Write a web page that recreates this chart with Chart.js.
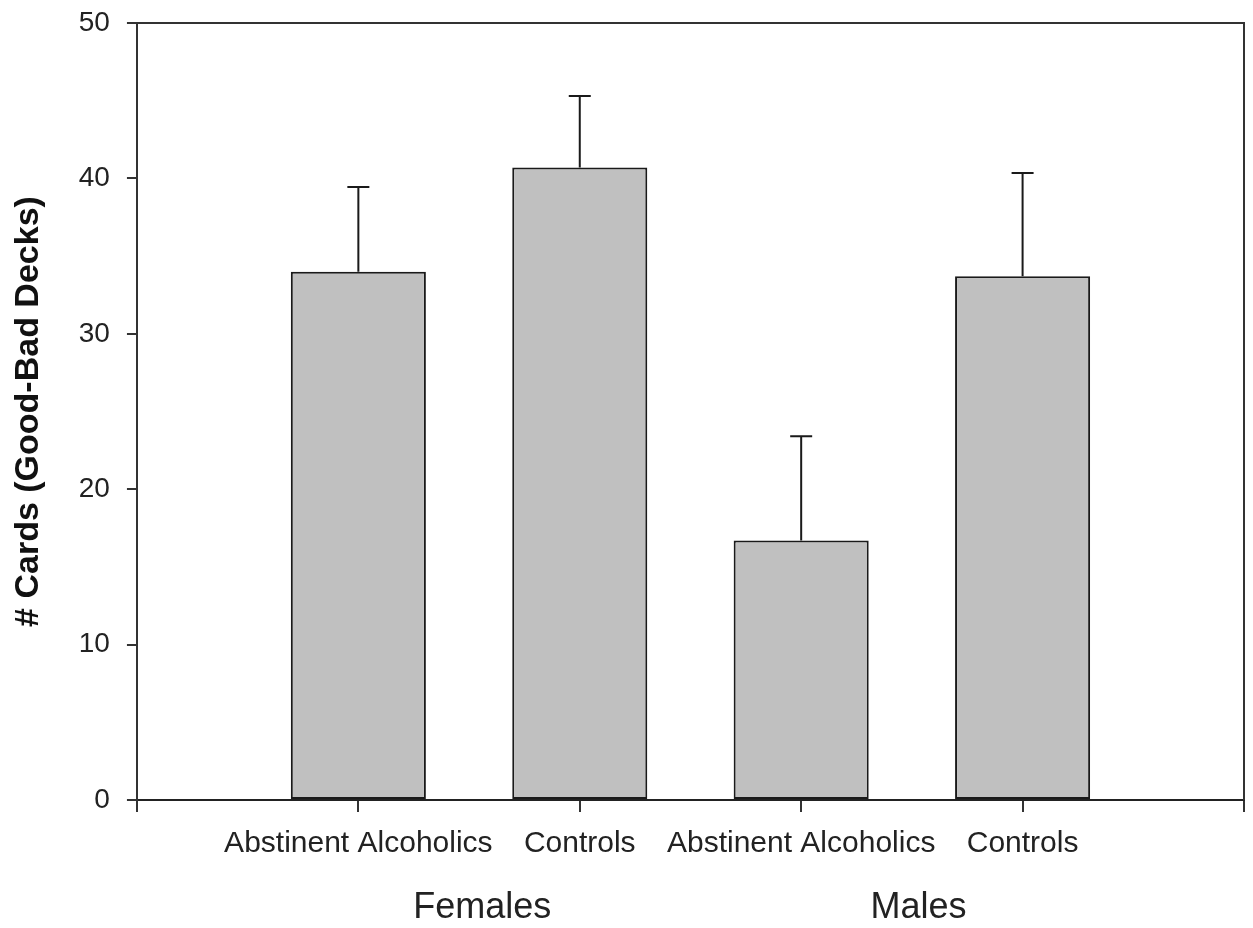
<!DOCTYPE html>
<html>
<head>
<meta charset="utf-8">
<script src="https://cdn.jsdelivr.net/npm/chart.js@4"></script>
<style>
  html, body { margin: 0; padding: 0; background: #fff; }
  #wrap { width: 1253px; height: 928px; }
</style>
</head>
<body>
<div id="wrap"><canvas id="grafik"></canvas></div>
<script>
// bar categories, positions along the x axis (1..4 on a 0..5 axis)
const kategoriler = ['Abstinent Alcoholics', 'Controls', 'Abstinent Alcoholics', 'Controls'];
const konumlar = [1, 2, 3, 4];
const ortalamalar = [34.0, 40.7, 16.7, 33.7];
const hatalar = [5.45, 4.6, 6.7, 6.65];
const gruplar = ['Females', 'Males'];
const grupKonumlari = [1.56, 3.53];
const yTikleri = [0, 10, 20, 30, 40, 50];

const yaziTipi = "'Liberation Sans', Arial, sans-serif";

// error bars (upper only) + frame + group labels
const ekler = {
    id: 'ekler',
    afterDatasetsDraw(chart) {
        const ctx = chart.ctx;
        const meta = chart.getDatasetMeta(0);
        const y = chart.scales.y;
        ctx.save();
        ctx.strokeStyle = '#1a1a1a';
        ctx.lineWidth = 2;
        meta.data.forEach((bar, i) => {
            const ust = y.getPixelForValue(ortalamalar[i] + hatalar[i]);
            ctx.beginPath();
            ctx.moveTo(bar.x, bar.y);
            ctx.lineTo(bar.x, ust);
            ctx.moveTo(bar.x - 11, ust);
            ctx.lineTo(bar.x + 11, ust);
            ctx.stroke();
        });
        const a = chart.chartArea;
        ctx.strokeStyle = '#333';
        ctx.beginPath();
        ctx.moveTo(a.left, a.top);
        ctx.lineTo(a.right, a.top);
        ctx.lineTo(a.right, a.bottom);
        ctx.stroke();
        ctx.restore();
    },
    afterDraw(chart) {
        const ctx = chart.ctx;
        const x = chart.scales.x;
        ctx.save();
        ctx.fillStyle = '#222';
        ctx.font = '36px ' + yaziTipi;
        ctx.textAlign = 'center';
        ctx.textBaseline = 'middle';
        gruplar.forEach((g, i) => {
            ctx.fillText(g, x.getPixelForValue(grupKonumlari[i]), 908);
        });
        ctx.restore();
    }
};

const veri = {
    datasets: [{
        label: '# Cards',
        data: konumlar.map((k, i) => ({ x: k, y: ortalamalar[i] })),
        backgroundColor: '#c0c0c0',
        borderColor: '#1a1a1a',
        borderWidth: 2,
        borderSkipped: false,
        barPercentage: 0.61,
        categoryPercentage: 1
    }]
};

const ayarlar = {
    type: 'bar',
    data: veri,
    options: {
        responsive: true,
        maintainAspectRatio: false,
        animation: false,
        layout: { padding: { top: 23, right: 9, bottom: 52, left: 8 } },
        plugins: {
            legend: { display: false },
            tooltip: { enabled: false }
        },
        scales: {
            x: {
                type: 'linear',
                min: 0,
                max: 5,
                offset: false,
                border: { color: '#222', width: 2 },
                grid: { offset: false, drawOnChartArea: false, drawTicks: true, tickLength: 12, color: '#333', lineWidth: 2 },
                afterBuildTicks: s => { s.ticks = [0, 1, 2, 3, 4, 5].map(v => ({ value: v })); },
                afterFit: s => { s.paddingLeft = 0; s.paddingRight = 0; },
                ticks: {
                    autoSkip: false,
                    maxRotation: 0,
                    padding: 14,
                    color: '#222',
                    font: { family: yaziTipi, size: 30 },
                    callback: v => (v >= 1 && v <= 4) ? kategoriler[v - 1] : ''
                }
            },
            y: {
                min: 0,
                max: 50,
                border: { color: '#333', width: 2 },
                grid: { drawOnChartArea: false, drawTicks: true, tickLength: 10, color: '#333', lineWidth: 2 },
                afterBuildTicks: s => { s.ticks = yTikleri.map(v => ({ value: v })); },
                afterFit: s => { s.paddingTop = 0; },
                ticks: {
                    padding: 17,
                    color: '#222',
                    font: { family: yaziTipi, size: 28 }
                },
                title: {
                    display: true,
                    text: '# Cards (Good-Bad Decks)',
                    color: '#111',
                    padding: { top: 0, bottom: 13 },
                    font: { family: yaziTipi, size: 34, weight: 'bold' }
                }
            }
        }
    },
    plugins: [ekler]
};

new Chart(document.getElementById('grafik').getContext('2d'), ayarlar);
</script>
</body>
</html>
